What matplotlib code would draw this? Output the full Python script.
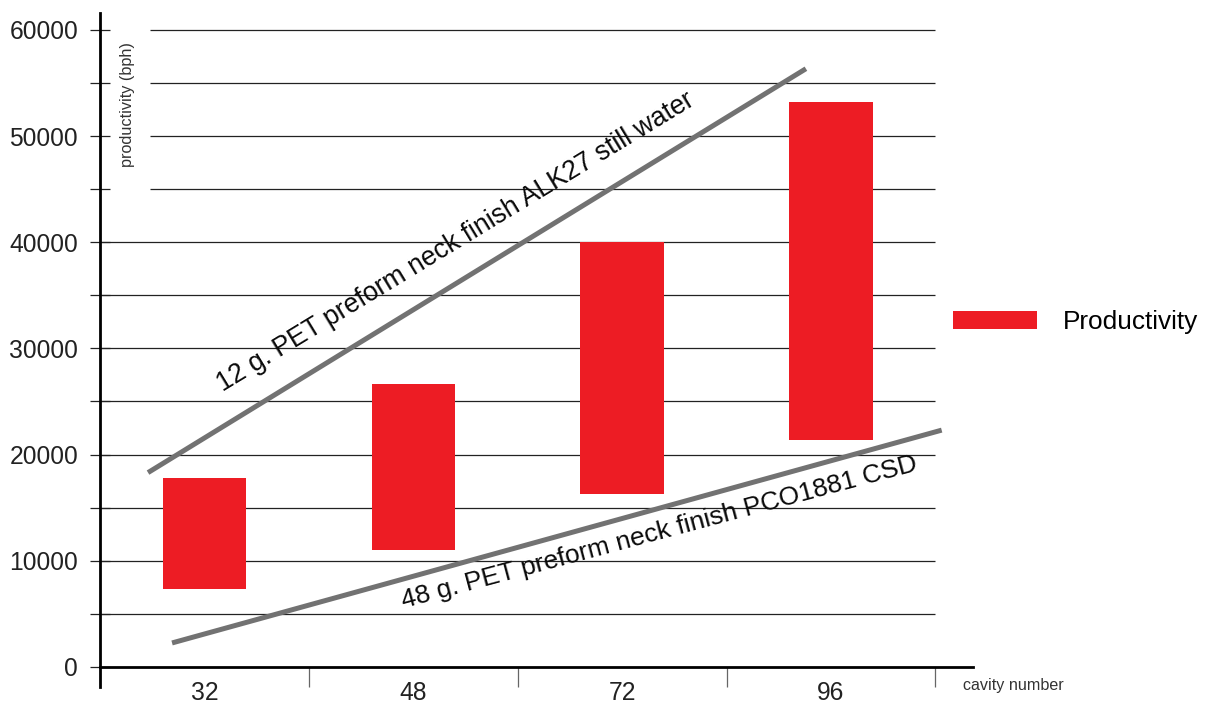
import matplotlib
matplotlib.use("Agg")
import matplotlib.pyplot as plt
import numpy as np

plt.rcParams['font.family'] = ['Liberation Sans', 'DejaVu Sans']

# data
categories = ['32', '48', '72', '96']
bar_bottom = [7350, 11000, 16300, 21400]
bar_top = [17800, 26650, 40000, 53200]

upper_line_x = [0.23, 3.38]
upper_line_y = [18300, 56350]
lower_line_x = [0.345, 4.03]
lower_line_y = [2250, 22300]

upper_label = '12 g. PET preform neck finish ALK27 still water'
lower_label = '48 g. PET preform neck finish PCO1881 CSD'

y_major = list(range(0, 60001, 10000))
y_minor = list(range(5000, 60000, 10000))
grid_levels = list(range(5000, 60001, 5000))

fig = plt.figure(figsize=(12.08, 7.08), dpi=100)
ax = fig.add_axes([100 / 1208, 1 - 687 / 708, (973 - 100) / 1208, (687 - 13) / 708])
ax.set_xlim(0, 4.18)
ax.set_ylim(-1900, 61600)

# gridlines
for g in grid_levels:
    x0 = 0.24 if g >= 45000 else 0.0
    ax.plot([x0, 4.0], [g, g], color='#222222', lw=0.9, zorder=1, solid_capstyle='butt')

# bars
centers = np.arange(len(categories)) + 0.5
heights = [t - b for t, b in zip(bar_top, bar_bottom)]
ax.bar(centers, heights, bottom=bar_bottom, width=0.4, color='#ED1C24',
       zorder=2, label='Productivity')

# trend lines
ax.plot(upper_line_x, upper_line_y, color='#727272', lw=3.6, zorder=3, solid_capstyle='butt')
ax.plot(lower_line_x, lower_line_y, color='#727272', lw=3.6, zorder=3, solid_capstyle='butt')

ax.text(0.59, 25900, upper_label, rotation=31.3, rotation_mode='anchor',
        ha='left', va='baseline', fontsize=19.2, color='#0a0a0a', zorder=4)
ax.text(1.455, 5550, lower_label, rotation=15.0, rotation_mode='anchor',
        ha='left', va='baseline', fontsize=19.0, color='#0a0a0a', zorder=4)

# spines
for s in ['top', 'right']:
    ax.spines[s].set_visible(False)
ax.spines['left'].set_linewidth(2.0)
ax.spines['left'].set_color('black')
ax.spines['bottom'].set_position(('data', 0))
ax.spines['bottom'].set_linewidth(2.0)
ax.spines['bottom'].set_color('black')
ax.spines['bottom'].set_zorder(5)

# y ticks
ax.set_yticks(y_major)
ax.set_yticklabels([str(v) for v in y_major])
ax.set_yticks(y_minor, minor=True)
ax.tick_params(axis='y', which='both', direction='inout', length=14.4, width=0.9,
               color='#222222')
ax.tick_params(axis='y', which='major', pad=8.6, labelsize=17.7, labelcolor='#222222')

# x ticks
ax.set_xticks(centers)
ax.set_xticklabels(categories)
ax.set_xticks([1, 2, 3, 4], minor=True)
ax.tick_params(axis='x', which='major', length=0, pad=10, labelsize=17.7, labelcolor='#222222')
ax.tick_params(axis='x', which='minor', direction='out', length=14.4, width=0.9, color='#666666')

# axis titles
ax.text(0.134, 53000, 'productivity (bph)', rotation=90, ha='center', va='center',
        fontsize=11.7, color='#333333')
ax.text(4.134, -1750, 'cavity number', ha='left', va='center',
        fontsize=11.6, color='#333333')

# legend
fig.legend(loc='center left', bbox_to_anchor=(953 / 1208, 1 - 322 / 708),
           frameon=False, fontsize=18.9, handlelength=3.2, handleheight=0.65,
           handletextpad=0.99, borderpad=0, borderaxespad=0)

fig.savefig('out.png', dpi=100)
